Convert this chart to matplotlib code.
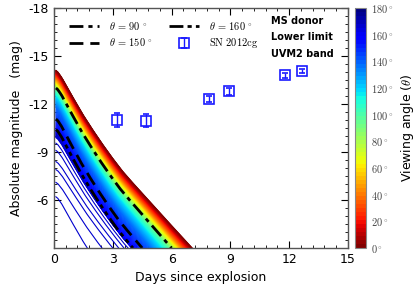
import numpy as np
import matplotlib
matplotlib.use("Agg")
import matplotlib.pyplot as plt
from matplotlib.ticker import MultipleLocator
from matplotlib.colors import Normalize
from matplotlib.cm import ScalarMappable

plt.rcParams['axes.unicode_minus'] = False
plt.rcParams['mathtext.fontset'] = 'cm'
plt.rcParams['font.family'] = 'DejaVu Sans'

# shape of the theta = 0 light curve (days, mag)
tmpl_t = [0.1, 0.2, 0.4, 1.0, 1.5, 2.0, 2.5, 3.0, 3.5, 4.0, 5.0, 6.0, 7.05]
tmpl_m = [-14.1, -14.0, -13.65, -12.35, -11.3, -10.35, -9.45, -8.6, -7.8, -7.1, -5.75, -4.4, -3.0]

# peak magnitude and time the curve leaves the plot, per viewing angle
ang_pts = [0, 20, 40, 60, 80, 90, 100, 120, 140, 150, 160, 174, 175, 176, 177, 178, 179, 180]
peak_pts = [-14.1, -13.85, -13.6, -13.35, -13.12, -13.0, -12.85, -12.45, -11.75, -11.06,
            -10.4, -9.9, -9.55, -9.1, -8.4, -7.9, -7.1, -6.2]
end_pts = [7.05, 6.8, 6.55, 6.35, 6.12, 6.0, 5.85, 5.45, 4.9, 4.5,
           4.03, 3.97, 3.78, 3.57, 3.3, 3.0, 2.45, 1.7]

# SN 2012cg UVM2 points
sn_t = [3.2, 4.7, 7.9, 8.93, 11.8, 12.65]
sn_m = [-11.0, -10.95, -12.3, -12.8, -13.8, -14.06]
sn_err = [0.45, 0.4, 0.2, 0.22, 0.15, 0.15]

ref_angles = [90, 150, 160]
ref_styles = [(0, (5, 1.8, 1.5, 1.8)), (0, (5, 2.5)), (0, (5, 1.5, 1.5, 1.5, 1.5, 1.5))]
ref_labels = [r'$\theta\,=\,90\,^\circ$', r'$\theta\,=\,150\,^\circ$', r'$\theta\,=\,160\,^\circ$']
sn_label = r'$\mathrm{SN\ 2012cg}$'


def curve(a):
    # theta=0 shape shifted down to this angle's peak, stretched to its end time
    m0 = np.interp(a, ang_pts, peak_pts)
    te = np.interp(a, ang_pts, end_pts)
    tpe = np.interp(tmpl_m[0] + (-3.0 - m0), tmpl_m, tmpl_t)
    tp = np.linspace(tmpl_t[0], tpe, 80)
    m = m0 + (np.interp(tp, tmpl_t, tmpl_m) - tmpl_m[0])
    t = tmpl_t[0] + (tp - tmpl_t[0]) * (te - tmpl_t[0]) / (tpe - tmpl_t[0])
    return t, m


cmap = plt.get_cmap('jet_r', 60)
norm = Normalize(0, 180)
line_cmap = plt.get_cmap('jet_r')

fig = plt.figure(figsize=(4.15, 2.92), dpi=100)
ax = fig.add_axes([0.130, 0.1507, 0.7086, 0.8219])
cax = fig.add_axes([0.8554, 0.1507, 0.0265, 0.8219])

for a in range(180, -1, -1):
    t, m = curve(a)
    c = line_cmap(norm(min(a, 168)))
    ax.plot(t, m, color=c, lw=0.8)

handles = []
for a, ls, lab in zip(ref_angles, ref_styles, ref_labels):
    t, m = curve(a)
    h, = ax.plot(t, m, color='black', lw=2.0, linestyle=ls)
    handles.append(h)

sn = ax.errorbar(sn_t, sn_m, yerr=sn_err, fmt='s', mfc='none', mec='#1a1aff',
                 ecolor='#1a1aff', ms=7.5, mew=1.2, capsize=2, elinewidth=1.0)

ax.legend([handles[0], handles[1], handles[2], sn],
          [ref_labels[0], ref_labels[1], ref_labels[2], sn_label],
          ncol=2, loc='upper left', bbox_to_anchor=(0.02, 0.99),
          frameon=False, fontsize=7.5, handlelength=2.9, columnspacing=1.6,
          labelspacing=0.45, handletextpad=0.9)

ax.text(0.738, 0.935, 'MS donor', transform=ax.transAxes, fontsize=7, fontweight='bold')
ax.text(0.738, 0.865, 'Lower limit', transform=ax.transAxes, fontsize=7, fontweight='bold')
ax.text(0.738, 0.795, 'UVM2 band', transform=ax.transAxes, fontsize=7, fontweight='bold')

ax.set_xlim(0, 15)
ax.set_ylim(-3, -18)
ax.set_xticks([0, 3, 6, 9, 12, 15])
ax.set_yticks([-18, -15, -12, -9, -6])
ax.xaxis.set_minor_locator(MultipleLocator(0.6))
ax.yaxis.set_minor_locator(MultipleLocator(0.5))
ax.tick_params(which='both', direction='in', top=True, right=True, labelsize=9)
ax.tick_params(which='major', length=5, width=0.8)
ax.tick_params(which='minor', length=2.5, width=0.6)
for s in ax.spines.values():
    s.set_color('#555555')
    s.set_linewidth(1.0)
ax.set_xlabel('Days since explosion', fontsize=9)
ax.set_ylabel('Absolute magnitude   (mag)', fontsize=9)

cb = fig.colorbar(ScalarMappable(norm=norm, cmap=cmap), cax=cax)
cb.set_ticks(range(0, 181, 20))
cb.set_ticklabels([r'$%d^\circ$' % v for v in range(0, 181, 20)])
cb.ax.tick_params(labelsize=7.5, length=0, labelcolor='#444444')
cb.outline.set_edgecolor('#888888')
cb.set_label(r'Viewing angle ($\theta$)', fontsize=9)

fig.savefig('out.png', dpi=100)
